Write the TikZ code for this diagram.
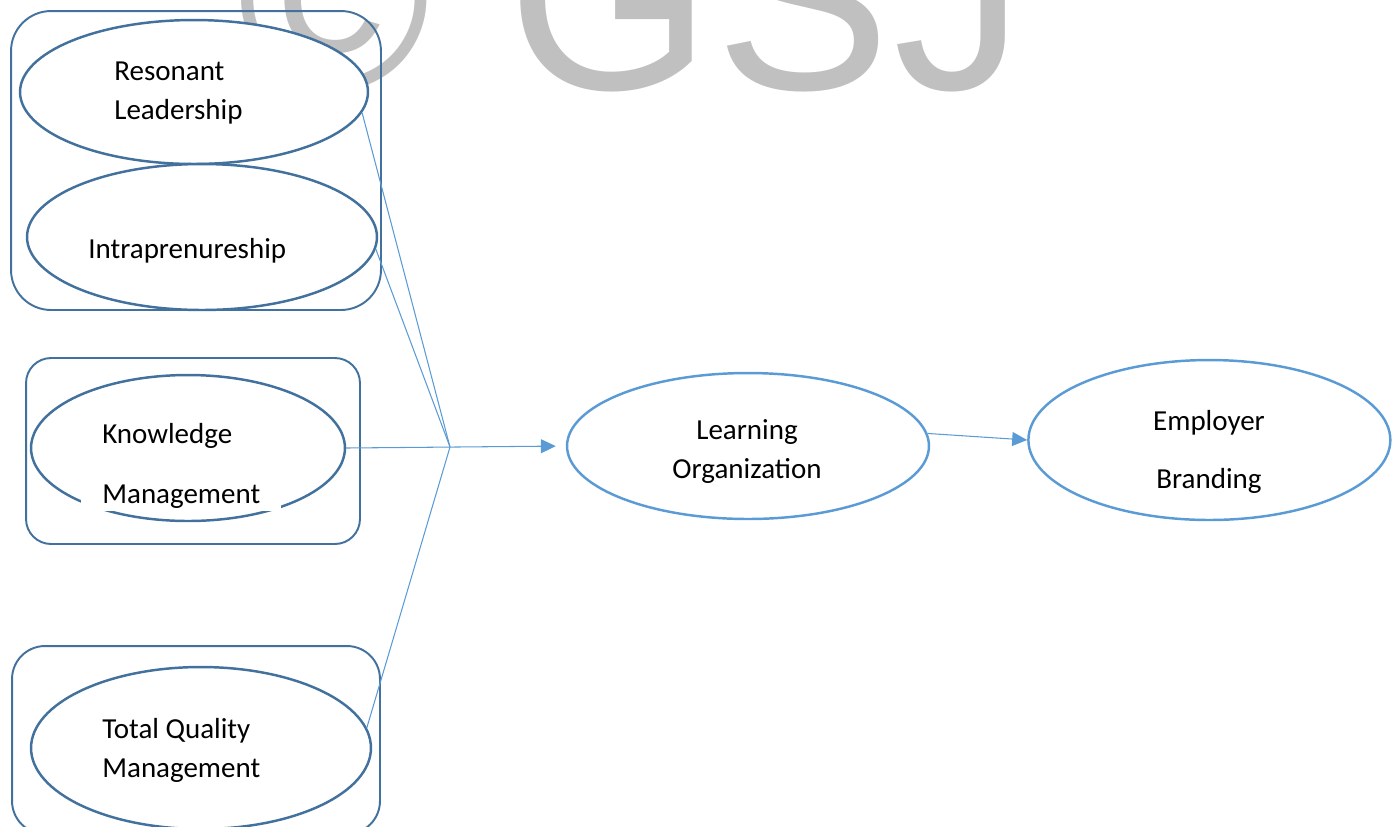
\documentclass[tikz,border=0pt]{standalone}
\usepackage{fontspec}
\setmainfont{Carlito}
\newfontfamily\wmfont{Liberation Sans}
\usepackage{tikz}
\usetikzlibrary{shapes.geometric, arrows.meta, positioning}
\definecolor{boxblue}{HTML}{41719C}
\definecolor{lineblue}{HTML}{5B9BD5}
\definecolor{wmgray}{HTML}{C0C0C0}
\tikzstyle{grp} = [rectangle, draw=boxblue, line width=1.1pt, inner sep=0pt]
\tikzstyle{ln} = [draw=lineblue, line width=0.6pt]
\tikzstyle{arr} = [ln, -{Triangle[length=0.3cm, width=0.28cm]}]

\begin{document}
\begin{tikzpicture}[x=0.02cm, y=-0.02cm,
    E/.style = {ellipse, draw=#1, fill=white, line width=1.4pt, inner sep=0pt},
    E/.default=boxblue,
    T/.style = {font=\fontsize{16.5}{22}\selectfont, inner sep=0pt, align=left, anchor=base west},
    W/.style = {font=\wmfont\fontsize{149.5}{150}\selectfont, text=wmgray, inner sep=0pt, anchor=base west}]
    \useasboundingbox (0,0) rectangle (1392,826);
    % watermark behind everything
    \node (wmC) [W] at (237,89) {©};
    \node (wmG) [W] at (507,89) {G};
    \node (wmS) [W] at (715,89) {S};
    \node (wmJ) [W] at (893,89) {J};

    % group frames
    \node (g1) [grp, rounded corners=0.8cm, minimum width=7.4cm, minimum height=5.98cm] at (196,160.5) {};
    \node (g2) [grp, rounded corners=0.5cm, minimum width=6.68cm, minimum height=3.72cm] at (193,451) {};
    \node (g3) [grp, rounded corners=0.66cm, minimum width=7.36cm, minimum height=3.76cm] at (196,740) {};

    \node (rl) [E, minimum width=6.96cm, minimum height=2.88cm] at (194,92) {};
    \node (ip) [E, minimum width=7cm, minimum height=2.92cm] at (202,237) {};
    \node (km) [E, minimum width=6.28cm, minimum height=2.92cm] at (188,448) {};
    \node (tqm) [E, minimum width=6.8cm, minimum height=3.24cm] at (201,748) {};
    \node (lo) [E=lineblue, minimum width=7.24cm, minimum height=2.92cm] at (748,446) {};
    \node (eb) [E=lineblue, right=1.94cm of lo, yshift=0.12cm, minimum width=7.24cm, minimum height=3.2cm] {};

    % labels, placed at the baseline of their last line
    \node (rlText) [T] at (114,119) {Resonant\\Leadership};
    \node (ipText) [T] at (88,258) {Intraprenureship};
    \node (kmText) [T, fill=white, inner xsep=0.42cm, inner ysep=0.06cm] at (81,503) {Knowledge\\[12pt]Management};
    \node (tqmText) [T] at (102,777) {Total Quality\\Management};
    \node (loText) [T, align=center, anchor=base] at (747,478) {Learning\\Organization};
    \node (ebText) [T, align=center, anchor=base] at (1209,488) {Employer\\[11pt]Branding};

    \coordinate (hub) at (450,447);
    \draw[ln] (rl.-7) -- (hub);
    \draw[ln] (ip.-4) -- (hub);
    \draw[ln] (tqm.7) -- (hub);
    \draw[arr, shorten >=0.2cm] (km.east) -- (lo.west);
    \draw[arr] (lo.4) -- (eb.west);
\end{tikzpicture}
\end{document}
